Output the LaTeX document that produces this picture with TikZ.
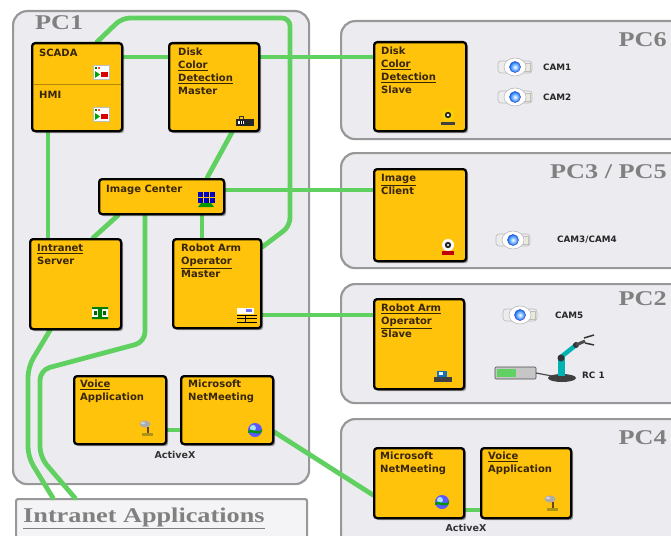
\documentclass[tikz,border=0pt]{standalone}
\usepackage{fontspec}
\setmainfont{DejaVu Sans}
\newfontfamily\pcfont[FakeStretch=1.25]{Liberation Serif}
\newfontfamily\boxfont{DejaVu Sans}
\usetikzlibrary{shadows,calc}

\definecolor{panel}{RGB}{236,236,240}
\definecolor{panelline}{RGB}{152,152,152}
\definecolor{boxy}{RGB}{255,195,12}
\definecolor{wire}{RGB}{96,208,96}
\definecolor{labelgray}{RGB}{128,128,128}
\definecolor{btxt}{RGB}{55,38,10}

\pgfdeclarelayer{back}
\pgfdeclarelayer{lines}
\pgfsetlayers{back,lines,main}

\tikzset{
  panelbox/.style={draw=panelline, line width=2.2pt, fill=panel, rounded corners=14pt,
    inner sep=0pt, anchor=north west},
  appsbox/.style={draw=panelline, line width=2.2pt, fill=panel!60!white, rounded corners=2pt,
    inner sep=0pt, anchor=north west},
  ybox/.style={draw=black, line width=2.3pt, fill=boxy, rounded corners=3pt, inner sep=0pt,
    anchor=north west,
    drop shadow={shadow xshift=2pt, shadow yshift=-2pt, opacity=0.35, fill=black}},
  btext/.style={font=\boxfont\bfseries\fontsize{10}{12.8}\selectfont, text=btxt,
    align=left, inner sep=0pt, anchor=north west},
  pclabel/.style={font=\pcfont\bfseries\fontsize{21}{24}\selectfont, text=labelgray,
    inner sep=0pt},
  camlabel/.style={font=\boxfont\bfseries\fontsize{8.8}{10}\selectfont, text=black!85,
    inner sep=0pt, anchor=west},
  axlabel/.style={font=\boxfont\bfseries\fontsize{9.5}{11}\selectfont, text=black!80,
    inner sep=0pt},
  wireline/.style={draw=wire, line width=4.8pt, line join=round, line cap=round},
  pics/camera/.style={code={
    \draw[gray!55, fill=gray!15, rounded corners=3pt, line width=.6pt] (-17,-6) rectangle (17,6);
    \draw[gray!50, fill=yellow!25!gray!25, line width=.5pt] (9,-4) rectangle (15,4);
    \draw[gray!55, fill=white, line width=.6pt] (0,0) ellipse [x radius=11, y radius=9];
    \shade[inner color=white, outer color=blue!55!cyan] (0,0) circle [radius=5.5];
    \draw[blue!50!gray, line width=.5pt] (0,0) circle [radius=5.5];
  }},
  pics/hmiicon/.style={code={
    \draw[gray!50, fill=white, line width=.4pt] (-8,-7) rectangle (8,7);
    \fill[green!65!black] (-6,-1) -- (-6,6) -- (-1,2.5) -- cycle;
    \fill[red!85!black] (0,0) rectangle (7,5);
    \fill[green!50!black] (-6,-5) rectangle (-4,-3);
    \fill[red!70] (-3,-5) rectangle (-1,-3);
  }},
  pics/diskicon/.style={code={
    \fill[black!85] (-9,-3) rectangle (9,4);
    \fill[white] (-7,-1) rectangle (-1,2);
    \draw[black, line width=.5pt] (-5,-1) -- (-5,2) (-3,-1) -- (-3,2);
    \draw[black!80, line width=.7pt] (-6,-3) -- (-6,-6) -- (-2,-6) -- (-2,-3);
  }},
  pics/monitoricon/.style={code={
    \foreach \a in {-6,0,6}{
      \fill[blue!75!black] (\a-2.5,-7) rectangle (\a+2.5,-2);
      \fill[blue!75!black] (\a-2.5,-1) rectangle (\a+2.5,4);
    }
    \fill[green!60!black] (-5,4) -- (5,4) -- (8,8) -- (-8,8) -- cycle;
  }},
  pics/servericon/.style={code={
    \fill[white] (-8,-6) rectangle (8,6);
    \fill[green!50!black] (-8,-6) rectangle (8,-4) (-8,4) rectangle (8,6) (-2,-4) rectangle (2,4);
    \fill[green!40!black] (-6,-2) rectangle (-3,2) (3,-2) rectangle (6,2);
  }},
  pics/switchicon/.style={code={
    \fill[white] (-10,-7) rectangle (7,-1);
    \fill[blue!55] (-1,-6) rectangle (5,-3);
    \draw[black, line width=.8pt] (-10,0) -- (10,0) (-10,3.5) -- (10,3.5) (-10,7) -- (10,7);
    \draw[black, line width=.8pt] (-2,0) -- (-2,7);
  }},
  pics/micicon/.style={code={
    \fill[gray!65] (-2,-4) ellipse [x radius=5.5, y radius=3.5];
    \fill[gray!35] (-4,-5) ellipse [x radius=2, y radius=1.3];
    \draw[brown!55!black, line width=1.6pt] (1,-1) -- (1,6);
    \fill[brown!45!yellow!75!black] (-5,5) rectangle (6,8);
  }},
  pics/globeicon/.style={code={
    \fill[blue!65] (0,0) circle [radius=7];
    \fill[cyan!35] (-2,-2) circle [radius=3];
    \fill[green!60!black] (-7,1) .. controls (-3,-3) and (3,5) .. (7,-1) -- (7,1) .. controls (3,7) and (-3,0) .. (-7,3) -- cycle;
  }},
  pics/webcamicon/.style={code={
    \fill[yellow!70!orange] (0,-2) circle [radius=6];
    \fill[black!85] (0,-2) circle [radius=3.2];
    \fill[white] (0,-2) circle [radius=1.3];
    \fill[black!75] (-7,5) rectangle (7,8);
  }},
  pics/clienticon/.style={code={
    \fill[white] (0,-2) circle [radius=6];
    \fill[black!85] (0,-2) circle [radius=3.2];
    \fill[white] (0,-2) circle [radius=1.2];
    \fill[red!75!black] (-6,4) rectangle (6,8);
  }},
  pics/armicon/.style={code={
    \fill[cyan!50!blue] (-6,-6) rectangle (4,0);
    \fill[white] (-4,-5) rectangle (0,-2);
    \fill[black!75] (-9,0) rectangle (9,5);
  }},
}

\begin{document}
\begin{tikzpicture}[x=1pt,y=-1pt]
\useasboundingbox (0,0) rectangle (671,535);

% computer panels
\begin{pgfonlayer}{back}
\fill[white] (0,0) rectangle (671,535);
\node[panelbox, minimum width=296, minimum height=473] (pc1) at (12,10) {};
\node[panelbox, minimum width=345, minimum height=118] (pc6) at (340,20) {};
\node[panelbox, minimum width=345, minimum height=115] (pc35) at (340,152) {};
\node[panelbox, minimum width=345, minimum height=119] (pc2) at (340,283) {};
\node[panelbox, minimum width=345, minimum height=130] (pc4) at (340,418) {};
\node[appsbox, minimum width=291, minimum height=48] (apps) at (15,498) {};
\end{pgfonlayer}

\node[pclabel, anchor=base west] (pc1l) at (35,30) {PC1};
\node[pclabel, anchor=base east] (pc6l) at (667,47) {PC6};
\node[pclabel, anchor=base east] (pc35l) at (667,178) {PC3 / PC5};
\node[pclabel, anchor=base east] (pc2l) at (667,305) {PC2};
\node[pclabel, anchor=base east] (pc4l) at (667,444) {PC4};
\node[pclabel, anchor=base west] (appsl) at (23,522) {\underline{Intranet Applications}};

% application boxes
\node[ybox, minimum width=90, minimum height=88] (scada) at (31,42) {};
\node[ybox, minimum width=90, minimum height=88] (dmaster) at (168,42) {};
\node[ybox, minimum width=125, minimum height=35] (imgc) at (98,178) {};
\node[ybox, minimum width=91, minimum height=90] (iserver) at (29,238) {};
\node[ybox, minimum width=88, minimum height=89] (rmaster) at (172,238) {};
\node[ybox, minimum width=92, minimum height=68] (voice1) at (73,375) {};
\node[ybox, minimum width=92, minimum height=68] (netm1) at (180,375) {};
\node[ybox, minimum width=92, minimum height=89] (dslave) at (373,41) {};
\node[ybox, minimum width=92, minimum height=92] (iclient) at (373,168) {};
\node[ybox, minimum width=90, minimum height=90] (rslave) at (373,298) {};
\node[ybox, minimum width=90, minimum height=70] (netm4) at (373,447) {};
\node[ybox, minimum width=90, minimum height=70] (voice4) at (480,447) {};

\draw[boxy!70!black, line width=.5pt] ($(scada.north west)+(2,42)$) -- ($(scada.north east)+(-2,42)$);

% box texts
\node[btext] (scadat) at ($(scada.north west)+(8,7)$) {SCADA};
\node[btext] (hmit) at ($(scada.north west)+(8,49)$) {HMI};
\node[btext] (dmastert) at ($(dmaster.north west)+(10,6)$) {Disk\\\underline{Color}\\\underline{Detection}\\Master};
\node[btext] (imgct) at ($(imgc.north west)+(8,7)$) {Image Center};
\node[btext] (iservert) at ($(iserver.north west)+(8,6)$) {\underline{Intranet}\\Server};
\node[btext] (rmastert) at ($(rmaster.north west)+(9,6)$) {Robot Arm\\\underline{Operator}\\Master};
\node[btext] (voice1t) at ($(voice1.north west)+(7,5)$) {\underline{Voice}\\Application};
\node[btext] (netm1t) at ($(netm1.north west)+(8,5)$) {Microsoft\\NetMeeting};
\node[btext] (dslavet) at ($(dslave.north west)+(8,6)$) {Disk\\\underline{Color}\\\underline{Detection}\\Slave};
\node[btext] (iclientt) at ($(iclient.north west)+(8,6)$) {\underline{Image}\\Client};
\node[btext] (rslavet) at ($(rslave.north west)+(8,6)$) {\underline{Robot Arm}\\\underline{Operator}\\Slave};
\node[btext] (netm4t) at ($(netm4.north west)+(7,5)$) {Microsoft\\NetMeeting};
\node[btext] (voice4t) at ($(voice4.north west)+(8,5)$) {\underline{Voice}\\Application};

\node[axlabel] (ax1) at (175,455) {ActiveX};
\node[axlabel] (ax4) at (466,528) {ActiveX};

% box icons
\pic at (101,72) {hmiicon};
\pic at (101,114) {hmiicon};
\pic at (245,122) {diskicon};
\pic at (206,199) {monitoricon};
\pic at (100,313) {servericon};
\pic at (247,315) {switchicon};
\pic at (147,428) {micicon};
\pic at (255,430) {globeicon};
\pic at (448,117) {webcamicon};
\pic at (448,247) {clienticon};
\pic at (443,377) {armicon};
\pic at (442,502) {globeicon};
\pic at (552,503) {micicon};

% cameras and robot
\pic at (515,67) {camera};
\pic at (515,97) {camera};
\pic at (513,240) {camera};
\pic at (520,315) {camera};
\node[camlabel] (cam1) at (543,67) {CAM1};
\node[camlabel] (cam2) at (543,97) {CAM2};
\node[camlabel] (cam34) at (557,240) {CAM3/CAM4};
\node[camlabel] (cam5) at (555,315) {CAM5};

\draw[gray!60!black, fill=gray!45, rounded corners=1pt, line width=.6pt] (495,367) rectangle (536,379);
\fill[green!55!gray!80] (497,369) rectangle (516,377);
\draw[black!70, line width=1.2pt] (536,373) -- (552,376);
\fill[black!75] (562,378) ellipse [x radius=14, y radius=4];
\fill[teal!60!cyan] (558,357) rectangle (565,376);
\draw[teal!60!cyan, line width=4.5pt] (561,357) -- (576,345);
\fill[black!80] (561,358) circle [radius=3.5];
\fill[black!80] (576,345) circle [radius=3];
\draw[black!70, line width=3pt] (576,345) -- (585,341);
\draw[black!80, line width=1.5pt] (584,338) -- (594,335) (585,343) -- (594,345);
\node[camlabel] (rc1) at (582,375) {RC 1};

% network links
\coordinate (t1) at (122,18);
\coordinate (t2) at (290,18);
\coordinate (t3) at (290,226);
\coordinate (b1) at (145,342);
\coordinate (b2) at (40,370);
\coordinate (b3) at (40,457);
\coordinate (c1) at (28,367);
\coordinate (c2) at (28,457);

\begin{pgfonlayer}{lines}
\draw[wireline] ($(scada.north east)+(0,15)$) -- ($(dmaster.north west)+(0,15)$);
\draw[wireline] ($(dmaster.north east)+(0,15)$) -- ($(dslave.north west)+(0,16)$);
\draw[wireline, rounded corners=8pt] ($(scada.north west)+(66,0)$) -- (t1) -- (t2) -- (t3) -- ($(rmaster.north east)+(0,9)$);
\draw[wireline] ($(dmaster.south west)+(64,0)$) -- ($(imgc.north west)+(109,0)$);
\draw[wireline] ($(imgc.north east)+(0,12)$) -- ($(iclient.north west)+(0,22)$);
\draw[wireline] ($(imgc.south west)+(104,0)$) -- ($(rmaster.north west)+(30,0)$);
\draw[wireline] ($(imgc.south west)+(20,0)$) -- ($(iserver.north west)+(64,0)$);
\draw[wireline] ($(scada.south west)+(17,0)$) -- ($(iserver.north west)+(19,0)$);
\draw[wireline, rounded corners=10pt] ($(imgc.south west)+(47,0)$) -- (b1) -- (b2) -- (b3) -- ($(apps.north west)+(60,0)$);
\draw[wireline, rounded corners=10pt] ($(iserver.south west)+(21,0)$) -- (c1) -- (c2) -- ($(apps.north west)+(38,0)$);
\draw[wireline] ($(rmaster.north east)+(0,77)$) -- ($(rslave.north west)+(0,17)$);
\draw[wireline] ($(voice1.north east)+(0,55)$) -- ($(netm1.north west)+(0,55)$);
\draw[wireline] ($(netm1.north east)+(0,57)$) -- ($(netm4.north west)+(0,48)$);
\draw[wireline] ($(netm4.north east)+(0,63)$) -- ($(voice4.north west)+(0,63)$);
\end{pgfonlayer}
\end{tikzpicture}
\end{document}
